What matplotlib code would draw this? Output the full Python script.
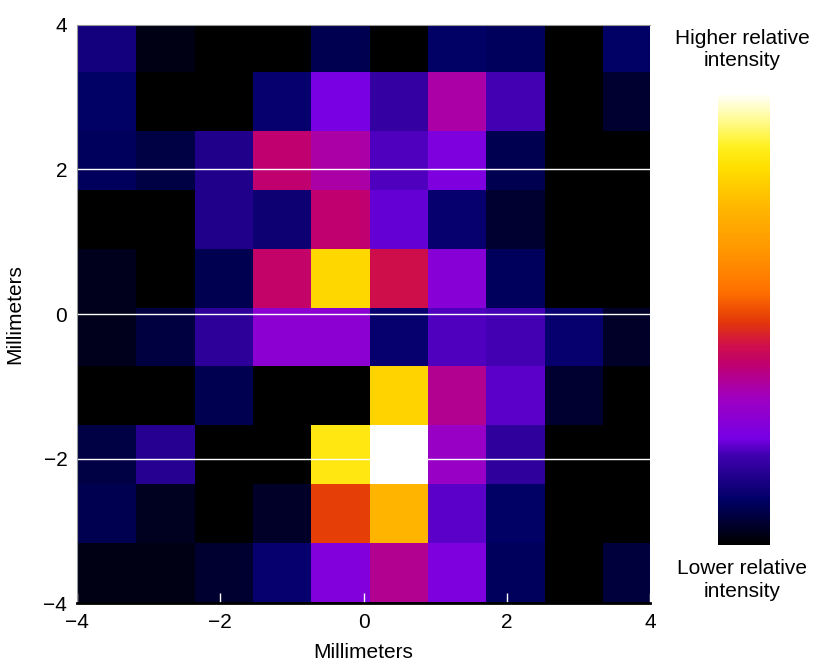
import matplotlib.pyplot as plt
from matplotlib.colors import LinearSegmentedColormap

plt.rcParams['font.family'] = ['Liberation Sans', 'DejaVu Sans']

# relative intensity, rows from top (y = 4) to bottom (y = -4)
intensity = [
    [0.13, 0.02, 0.00, 0.00, 0.08, 0.00, 0.10, 0.09, 0.00, 0.10],
    [0.10, 0.00, 0.00, 0.11, 0.24, 0.18, 0.35, 0.20, 0.00, 0.05],
    [0.09, 0.07, 0.15, 0.40, 0.35, 0.21, 0.25, 0.08, 0.00, 0.00],
    [0.00, 0.00, 0.15, 0.12, 0.40, 0.225, 0.11, 0.05, 0.00, 0.00],
    [0.03, 0.00, 0.08, 0.41, 0.82, 0.44, 0.27, 0.09, 0.00, 0.00],
    [0.03, 0.065, 0.17, 0.285, 0.285, 0.11, 0.21, 0.20, 0.11, 0.04],
    [0.00, 0.00, 0.08, 0.00, 0.00, 0.81, 0.37, 0.215, 0.05, 0.00],
    [0.07, 0.16, 0.00, 0.00, 0.86, 1.00, 0.31, 0.175, 0.00, 0.00],
    [0.08, 0.035, 0.00, 0.04, 0.50, 0.74, 0.215, 0.10, 0.00, 0.00],
    [0.02, 0.02, 0.05, 0.11, 0.26, 0.37, 0.25, 0.09, 0.00, 0.06],
]
ticks = [-4, -2, 0, 2, 4]
grid_lines = [-2, 0, 2]

cmap = LinearSegmentedColormap.from_list('hot_pi', [
    (0.0, '#000000'),
    (0.099, '#000066'),
    (0.198, '#4000b0'),
    (0.235, '#7700e5'),
    (0.326, '#a000c0'),
    (0.399, '#c00070'),
    (0.443, '#d01048'),
    (0.494, '#e33808'),
    (0.56, '#ff7000'),
    (0.656, '#ff9800'),
    (0.744, '#ffb500'),
    (0.839, '#ffe000'),
    (0.883, '#fff020'),
    (0.949, '#fffca0'),
    (1.0, '#ffffff'),
])

fig = plt.figure(figsize=(8.31, 6.61), dpi=100)
ax = fig.add_axes([0.0927, 0.0877, 0.6895, 0.8745])
ax.set_facecolor('black')
im = ax.imshow(intensity, cmap=cmap, vmin=0, vmax=1, interpolation='nearest',
               extent=[-3.98, 4.16, -3.98, 4.16], aspect='auto')
ax.set_xlim(-4, 4)
ax.set_ylim(-4, 4)
ax.set_xticks(ticks)
ax.set_yticks(ticks)
for y in grid_lines:
    ax.axhline(y, color='white', lw=1)
ax.tick_params(axis='y', length=0, labelsize=15, pad=7)
ax.tick_params(axis='x', direction='in', color='white', length=7, width=1,
               labelsize=15, pad=7)
for s in ['left', 'top']:
    ax.spines[s].set_color('#999999')
ax.spines['bottom'].set_color('black')
ax.spines['bottom'].set_linewidth(2)
ax.spines['right'].set_visible(False)
ax.set_xlabel('Millimeters', fontsize=15, labelpad=8)
ax.set_ylabel('Millimeters', fontsize=15, labelpad=14)

cax = fig.add_axes([0.864, 0.1755, 0.0626, 0.684])
cb = fig.colorbar(im, cax=cax)
cb.set_ticks([])
cb.outline.set_visible(False)
fig.text(0.893, 0.925, 'Higher relative\nintensity', ha='center', va='center',
         fontsize=15, linespacing=1.25)
fig.text(0.893, 0.122, 'Lower relative\nintensity', ha='center', va='center',
         fontsize=15, linespacing=1.25)

fig.savefig('out.png', dpi=100)
